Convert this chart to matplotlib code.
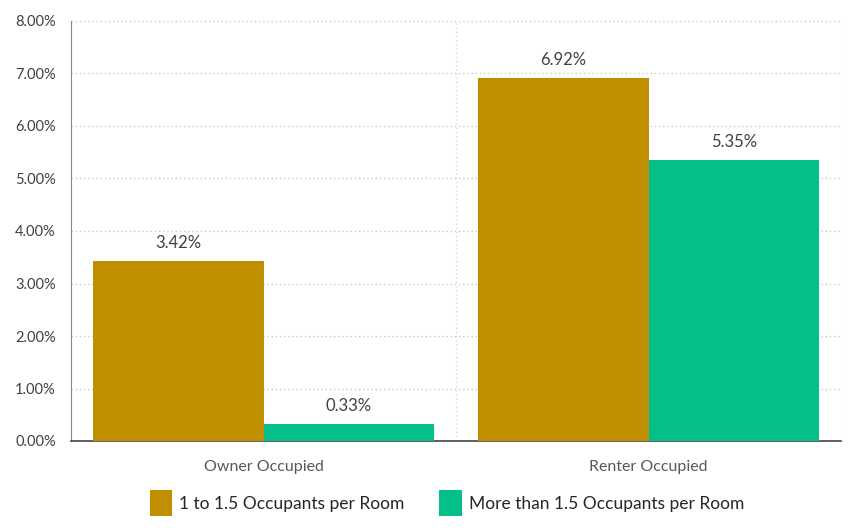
import matplotlib
matplotlib.use("Agg")
import matplotlib.pyplot as plt
from matplotlib.ticker import FuncFormatter
import numpy as np

categories = ["Owner Occupied", "Renter Occupied"]
series_names = ["1 to 1.5 Occupants per Room", "More than 1.5 Occupants per Room"]
series_1 = [3.42, 6.92]
series_2 = [0.33, 5.35]
colors = ["#BF8F00", "#05BF8A"]

plt.rcParams['font.family'] = ['Lato', 'DejaVu Sans']

fig = plt.figure(figsize=(8.48, 5.29), dpi=100)
ax = fig.add_axes([71/848, 88/529, 770/848, 420/529])

x = np.arange(len(categories))
w = 0.444
b1 = ax.bar(x - w/2, series_1, w, color=colors[0], label=series_names[0], zorder=3)
b2 = ax.bar(x + w/2, series_2, w, color=colors[1], label=series_names[1], zorder=3)

for bars, vals in ((b1, series_1), (b2, series_2)):
    for r, v in zip(bars, vals):
        ax.text(r.get_x() + r.get_width()/2, v + 0.19, f"{v:.2f}%", ha="center", va="bottom",
                fontsize=12, color="#404040")

ax.set_xlim(-0.5, 1.5)
ax.set_ylim(0, 8)
ax.set_yticks(np.arange(0, 9, 1))
ax.yaxis.set_major_formatter(FuncFormatter(lambda v, p: f"{v:.2f}%"))
ax.set_xticks(x)
ax.set_xticklabels(categories, fontsize=11.5, color="#595959")
ax.set_xticks([0, 0.5, 1, 1.5], minor=True)
ax.tick_params(axis="y", labelsize=10.5, labelcolor="#404040", length=0, pad=11)
ax.tick_params(axis="x", which="both", length=0, pad=14)

ax.grid(axis="y", linestyle=(0, (1, 2)), color="#c8c8c8", linewidth=1, zorder=0)
ax.grid(axis="x", which="minor", linestyle=(0, (1, 2)), color="#d8d8d8", linewidth=1, zorder=0)
ax.grid(axis="x", which="major", visible=False)

for s in ("top", "right"):
    ax.spines[s].set_visible(False)
ax.spines["left"].set_color("#888888")
ax.spines["bottom"].set_color("#444444")
ax.spines["bottom"].set_linewidth(1.2)

leg = fig.legend(handles=[b1, b2], loc="center", bbox_to_anchor=(0.5 + 23/848, 26/529),
                 ncol=2, frameon=False, fontsize=12.5, handlelength=1.3, handleheight=1.9,
                 columnspacing=2.0, handletextpad=0.4)
for t in leg.get_texts():
    t.set_color("#262626")

fig.savefig("out.png", dpi=100)
